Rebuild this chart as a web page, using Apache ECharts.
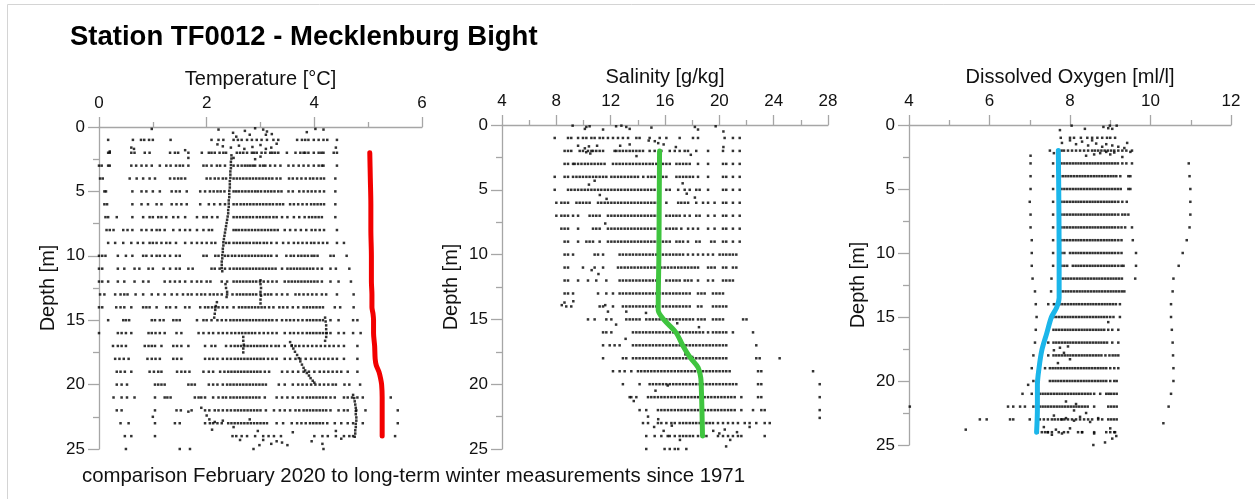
<!DOCTYPE html>
<html lang="en">
<head>
    <meta charset="UTF-8">
    <title>Station TF0012 - Mecklenburg Bight</title>
    <script src="https://cdn.jsdelivr.net/npm/echarts@6/dist/echarts.min.js"></script>
</head>
<body style="margin:0;background:#fff;">
    <div id="main" style="width:1255px;height:499px;"></div>
<script type="text/javascript">
    // depth rows: index = depth [m], values = readings at that depth
    var tempRows = [
        [],
        [0.17, 0.63, 0.78, 0.84, 0.93, 1.0, 1.33, 2.09, 2.22, 2.31, 2.5, 2.58, 2.65, 2.75, 2.84, 2.93, 3.02, 3.12, 3.24, 3.33, 3.68, 3.77, 3.83, 3.89, 3.99, 4.08, 4.17, 4.24, 4.42],
        [0.17, 0.2, 0.6, 0.66, 0.85, 0.94, 1.32, 1.41, 1.47, 1.66, 1.91, 2.04, 2.09, 2.15, 2.24, 2.31, 2.36, 2.56, 2.62, 2.68, 2.75, 2.84, 2.88, 2.93, 3.02, 3.09, 3.18, 3.22, 3.27, 3.33, 3.49, 3.65, 3.74, 3.8, 3.83, 3.89, 3.99, 4.08, 4.13, 4.17, 4.36, 4.42],
        [0.0, 0.05, 0.17, 0.2, 0.6, 0.69, 0.79, 0.88, 0.98, 1.13, 1.25, 1.33, 1.43, 1.5, 1.56, 1.66, 1.94, 2.0, 2.09, 2.19, 2.25, 2.34, 2.5, 2.58, 2.65, 2.71, 2.76, 2.81, 2.86, 2.9, 2.99, 3.05, 3.09, 3.18, 3.27, 3.37, 3.52, 3.61, 3.71, 3.8, 3.89, 3.99, 4.08, 4.14, 4.17, 4.42],
        [0.02, 0.07, 0.57, 0.7, 0.82, 0.94, 1.04, 1.32, 1.4, 1.47, 1.53, 1.6, 2.0, 2.07, 2.15, 2.22, 2.3, 2.36, 2.5, 2.56, 2.62, 2.68, 2.74, 2.8, 2.86, 2.92, 2.98, 3.04, 3.1, 3.16, 3.22, 3.3, 3.37, 3.53, 3.6, 3.68, 3.76, 3.84, 3.92, 3.98, 4.05, 4.12, 4.18, 4.39],
        [0.1, 0.13, 0.62, 0.79, 0.88, 1.0, 1.13, 1.35, 1.43, 1.5, 1.63, 1.88, 1.97, 2.06, 2.13, 2.2, 2.26, 2.33, 2.5, 2.55, 2.6, 2.66, 2.72, 2.78, 2.84, 2.9, 2.95, 3.01, 3.08, 3.14, 3.2, 3.26, 3.33, 3.39, 3.52, 3.6, 3.72, 3.8, 3.88, 3.95, 4.02, 4.1, 4.18, 4.39],
        [0.1, 0.15, 0.62, 0.79, 0.91, 1.07, 1.16, 1.35, 1.44, 1.53, 1.63, 1.88, 2.04, 2.14, 2.25, 2.34, 2.5, 2.56, 2.63, 2.69, 2.75, 2.81, 2.87, 2.93, 2.99, 3.05, 3.11, 3.17, 3.23, 3.3, 3.36, 3.42, 3.55, 3.62, 3.7, 3.78, 3.86, 3.94, 4.0, 4.06, 4.12, 4.18, 4.39],
        [0.12, 0.17, 0.33, 0.62, 0.82, 0.94, 1.0, 1.1, 1.16, 1.25, 1.38, 1.47, 1.6, 1.82, 1.94, 2.0, 2.1, 2.2, 2.5, 2.56, 2.62, 2.68, 2.74, 2.8, 2.86, 2.93, 2.99, 3.05, 3.11, 3.17, 3.24, 3.3, 3.4, 3.5, 3.62, 3.72, 3.82, 3.9, 3.96, 4.02, 4.08, 4.14, 4.39],
        [0.14, 0.2, 0.27, 0.45, 0.53, 0.62, 0.79, 0.88, 0.98, 1.07, 1.13, 1.22, 1.38, 1.5, 1.6, 1.69, 1.82, 1.94, 2.04, 2.1, 2.5, 2.55, 2.6, 2.66, 2.72, 2.78, 2.84, 2.9, 2.96, 3.02, 3.08, 3.14, 3.2, 3.26, 3.32, 3.45, 3.55, 3.65, 3.75, 3.85, 3.95, 4.02, 4.1, 4.18, 4.42],
        [0.17, 0.3, 0.45, 0.6, 0.72, 0.82, 0.94, 1.0, 1.07, 1.16, 1.25, 1.32, 1.43, 1.6, 1.72, 1.82, 1.91, 2.0, 2.09, 2.16, 2.36, 2.42, 2.5, 2.56, 2.62, 2.68, 2.74, 2.8, 2.87, 2.93, 2.99, 3.06, 3.12, 3.2, 3.3, 3.42, 3.52, 3.62, 3.7, 3.78, 3.86, 3.94, 4.0, 4.08, 4.16, 4.24, 4.42, 4.55],
        [0.0, 0.06, 0.12, 0.35, 0.5, 0.62, 0.82, 0.88, 0.98, 1.07, 1.13, 1.22, 1.32, 1.43, 1.5, 1.94, 2.0, 2.16, 2.22, 2.34, 2.4, 2.47, 2.53, 2.6, 2.66, 2.72, 2.78, 2.84, 2.9, 2.96, 3.02, 3.08, 3.14, 3.2, 3.3, 3.48, 3.56, 3.62, 3.7, 3.76, 3.82, 3.88, 3.95, 4.0, 4.06, 4.3, 4.36, 4.6],
        [0.0, 0.06, 0.35, 0.47, 0.66, 0.75, 0.92, 1.0, 1.2, 1.32, 1.43, 1.5, 1.66, 1.74, 2.09, 2.15, 2.24, 2.34, 2.43, 2.5, 2.56, 2.62, 2.68, 2.74, 2.8, 2.86, 2.92, 2.98, 3.04, 3.1, 3.16, 3.22, 3.28, 3.4, 3.5, 3.56, 3.62, 3.68, 3.74, 3.8, 3.86, 3.92, 3.98, 4.06, 4.14, 4.3, 4.4, 4.65],
        [0.0, 0.06, 0.17, 0.35, 0.47, 0.66, 0.82, 0.92, 1.22, 1.32, 1.41, 1.5, 1.6, 1.72, 1.82, 1.9, 2.0, 2.07, 2.28, 2.38, 2.5, 2.56, 2.62, 2.68, 2.74, 2.8, 2.86, 2.92, 2.99, 3.06, 3.14, 3.22, 3.3, 3.45, 3.52, 3.58, 3.64, 3.7, 3.76, 3.82, 3.88, 3.94, 4.0, 4.06, 4.14, 4.3, 4.45, 4.68],
        [0.02, 0.1, 0.3, 0.4, 0.47, 0.53, 0.68, 0.82, 0.98, 1.1, 1.22, 1.35, 1.45, 1.56, 1.65, 1.72, 1.82, 1.9, 1.97, 2.06, 2.13, 2.2, 2.28, 2.38, 2.48, 2.56, 2.62, 2.68, 2.74, 2.8, 2.86, 2.92, 3.0, 3.08, 3.14, 3.2, 3.3, 3.4, 3.5, 3.65, 3.72, 3.8, 3.88, 3.96, 4.04, 4.14, 4.22, 4.42, 4.73],
        [0.0, 0.06, 0.32, 0.4, 0.47, 0.6, 0.82, 0.88, 0.94, 1.07, 1.25, 1.32, 1.43, 1.6, 1.68, 1.88, 1.97, 2.03, 2.1, 2.16, 2.22, 2.3, 2.38, 2.5, 2.6, 2.66, 2.72, 2.78, 2.84, 2.9, 2.96, 3.02, 3.08, 3.16, 3.24, 3.35, 3.42, 3.5, 3.6, 3.7, 3.8, 3.86, 3.92, 3.98, 4.04, 4.1, 4.16, 4.38, 4.48, 4.73],
        [0.17, 0.45, 0.5, 0.56, 0.98, 1.04, 1.13, 1.2, 1.38, 1.44, 1.5, 1.82, 1.94, 2.0, 2.09, 2.2, 2.28, 2.36, 2.44, 2.5, 2.56, 2.62, 2.68, 2.74, 2.8, 2.86, 2.92, 2.98, 3.04, 3.1, 3.16, 3.22, 3.3, 3.4, 3.48, 3.55, 3.62, 3.7, 3.78, 3.86, 3.92, 3.98, 4.04, 4.1, 4.16, 4.3, 4.45, 4.72, 4.8],
        [0.0, 0.35, 0.42, 0.5, 0.6, 0.92, 0.98, 1.05, 1.13, 1.22, 1.44, 1.53, 1.85, 1.94, 2.04, 2.12, 2.22, 2.3, 2.38, 2.46, 2.53, 2.6, 2.66, 2.72, 2.78, 2.84, 2.9, 2.98, 3.06, 3.14, 3.22, 3.3, 3.45, 3.55, 3.62, 3.7, 3.78, 3.86, 3.92, 3.98, 4.04, 4.1, 4.16, 4.22, 4.3, 4.45, 4.55, 4.72, 4.86],
        [0.26, 0.35, 0.42, 0.5, 0.85, 0.92, 0.98, 1.04, 1.16, 1.38, 1.45, 1.53, 1.66, 1.97, 2.09, 2.16, 2.36, 2.45, 2.52, 2.58, 2.64, 2.7, 2.76, 2.82, 2.88, 2.94, 3.0, 3.06, 3.12, 3.2, 3.28, 3.34, 3.45, 3.58, 3.65, 3.72, 3.8, 3.88, 3.96, 4.04, 4.12, 4.2, 4.28, 4.36, 4.45, 4.55, 4.8],
        [0.3, 0.38, 0.46, 0.55, 0.9, 0.98, 1.05, 1.13, 1.38, 1.45, 1.53, 1.97, 2.05, 2.12, 2.2, 2.3, 2.38, 2.45, 2.52, 2.58, 2.64, 2.7, 2.76, 2.82, 2.88, 2.94, 3.0, 3.06, 3.14, 3.22, 3.3, 3.45, 3.55, 3.65, 3.74, 3.84, 3.94, 4.02, 4.1, 4.18, 4.26, 4.34, 4.42, 4.55, 4.8],
        [0.33, 0.4, 0.48, 0.6, 0.94, 1.02, 1.1, 1.16, 1.45, 1.53, 1.6, 1.68, 1.94, 2.04, 2.12, 2.25, 2.33, 2.4, 2.46, 2.52, 2.58, 2.64, 2.7, 2.76, 2.82, 2.88, 2.94, 3.0, 3.08, 3.16, 3.4, 3.5, 3.6, 3.7, 3.8, 3.9, 4.0, 4.1, 4.18, 4.26, 4.34, 4.42, 4.5, 4.62, 4.8],
        [0.33, 0.42, 0.52, 1.04, 1.1, 1.16, 1.22, 1.66, 1.72, 1.78, 2.04, 2.12, 2.2, 2.3, 2.38, 2.44, 2.5, 2.56, 2.62, 2.68, 2.74, 2.8, 2.86, 2.92, 2.98, 3.04, 3.1, 3.34, 3.45, 3.6, 3.7, 3.78, 3.86, 3.94, 4.02, 4.1, 4.18, 4.26, 4.34, 4.4, 4.56, 4.65, 4.85],
        [0.27, 0.42, 0.52, 0.66, 1.04, 1.22, 1.27, 1.33, 1.78, 1.85, 1.9, 1.97, 2.12, 2.22, 2.3, 2.36, 2.44, 2.5, 2.56, 2.62, 2.68, 2.74, 2.8, 2.86, 2.92, 2.98, 3.08, 3.3, 3.4, 3.5, 3.6, 3.7, 3.78, 3.86, 3.92, 3.98, 4.04, 4.1, 4.16, 4.22, 4.3, 4.38, 4.55, 4.62, 4.7, 4.8, 4.9, 5.42],
        [0.33, 0.42, 1.04, 1.44, 1.52, 1.72, 1.97, 2.05, 2.15, 2.22, 2.3, 2.38, 2.45, 2.52, 2.58, 2.64, 2.7, 2.76, 2.82, 2.88, 2.94, 3.0, 3.1, 3.25, 3.36, 3.45, 3.55, 3.65, 3.72, 3.8, 3.86, 3.92, 3.98, 4.04, 4.1, 4.16, 4.22, 4.3, 4.45, 4.55, 4.62, 4.78, 4.95, 5.55],
        [0.4, 0.55, 1.04, 1.41, 1.5, 1.97, 2.06, 2.12, 2.2, 2.28, 2.4, 2.46, 2.52, 2.58, 2.64, 2.7, 2.76, 2.82, 2.88, 2.94, 3.0, 3.06, 3.12, 3.3, 3.42, 3.58, 3.68, 3.76, 3.84, 3.92, 3.98, 4.04, 4.1, 4.16, 4.24, 4.38, 4.5, 4.62, 4.72, 4.9, 5.55],
        [0.48, 0.6, 1.04, 2.48, 2.55, 2.65, 2.75, 2.9, 3.05, 3.15, 3.25, 3.38, 4.0, 4.15, 4.25, 4.4, 4.55, 4.65, 4.72, 5.5],
        [0.5, 1.5, 1.69, 2.87, 4.17]
    ];
    // readings between the rows: [value, depth]
    var tempExtra = [
        [0.98, 0.15], [2.22, 0.2], [2.49, 0.45], [2.71, 0.3], [2.9, 0.1], [3.05, 0.2], [3.12, 0.35], [3.21, 0.55], [3.86, 0.4], [4.02, 0.15], [4.17, 0.2], [2.55, 0.75], [2.8, 0.6], [3.1, 0.6],
        [2.2, 1.35], [2.3, 1.5], [2.45, 1.6], [2.6, 1.45], [2.7, 1.7], [2.85, 1.55], [3.0, 1.4], [3.1, 1.7], [3.2, 1.6], [3.3, 1.3], [4.4, 1.6], [0.6, 1.6], [0.65, 1.7], [1.6, 1.8], [0.2, 1.9], [2.5, 2.4], [2.9, 2.5], [3.0, 2.3], [1.66, 2.4],
        [1.9, 21.8], [2.0, 22.4], [2.05, 22.7], [2.15, 22.9], [2.1, 23.5], [2.3, 22.8], [2.5, 23.3], [2.62, 24.3], [2.8, 22.7], [2.95, 23.6], [3.05, 24.3], [3.2, 24.6], [3.3, 24.4], [3.4, 24.5], [3.5, 24.7], [3.6, 23.7], [3.95, 24.4], [4.15, 24.6], [4.4, 23.6], [4.5, 24.2], [2.98, 24.7], [1.66, 22.1], [1.0, 22.5],
        [2.46, 2.2], [2.46, 2.45], [2.45, 2.7], [2.45, 2.95], [2.45, 3.2], [2.44, 3.45], [2.44, 3.7], [2.44, 3.95], [2.43, 4.2], [2.43, 4.45], [2.43, 4.7], [2.42, 4.95], [2.42, 5.2], [2.42, 5.45], [2.41, 5.7], [2.41, 5.95], [2.41, 6.2], [2.4, 6.45], [2.4, 6.7], [2.39, 6.95], [2.38, 7.2], [2.37, 7.45], [2.36, 7.7], [2.35, 7.95], [2.34, 8.2], [2.33, 8.45], [2.32, 8.7], [2.31, 8.95], [2.31, 9.2], [2.3, 9.45], [2.3, 9.7], [2.29, 9.95], [2.29, 10.2], [2.28, 10.45], [2.28, 10.7], [2.28, 10.95], [2.29, 11.2],
        [3.0, 11.9], [3.0, 12.2], [3.01, 12.5], [3.0, 12.8], [3.01, 13.1], [3.0, 13.4], [3.0, 13.7],
        [2.35, 12.2], [2.36, 12.5], [2.38, 12.8], [2.37, 13.2],
        [2.19, 13.6], [2.17, 13.9], [2.16, 14.2], [2.15, 14.5], [2.14, 14.8],
        [4.2, 14.8], [4.21, 15.1], [4.22, 15.4], [4.22, 15.7], [4.23, 16.0], [4.22, 16.3], [4.2, 16.6],
        [3.55, 16.7], [3.58, 16.95], [3.61, 17.2], [3.64, 17.45], [3.68, 17.7], [3.71, 17.95], [3.74, 18.2], [3.77, 18.45], [3.8, 18.7], [3.83, 18.9], [3.86, 19.1], [3.9, 19.3], [3.93, 19.5], [3.97, 19.7], [4.0, 19.85],
        [2.68, 16.3], [2.68, 16.6], [2.69, 16.9], [2.68, 17.2], [2.68, 17.5],
        [4.72, 20.8], [4.74, 21.05], [4.75, 21.3], [4.76, 21.55], [4.77, 21.8], [4.77, 22.05], [4.77, 22.3], [4.78, 22.55], [4.78, 22.8], [4.77, 23.05], [4.77, 23.3], [4.76, 23.55], [4.76, 23.8], [4.75, 24.05]
    ];
    var tempProfileDepth = [2, 4, 6, 8, 10, 12, 13, 14, 14.5, 15, 16, 17, 18, 18.5, 19, 19.5, 20, 21, 22, 23, 24];
    var tempProfile = [5.03, 5.04, 5.05, 5.05, 5.06, 5.06, 5.07, 5.07, 5.09, 5.1, 5.1, 5.12, 5.13, 5.15, 5.2, 5.23, 5.25, 5.26, 5.26, 5.26, 5.26];

    var salRows = [
        [],
        [7.88, 8.86, 9.1, 9.6, 9.96, 10.21, 10.58, 10.82, 11.19, 11.44, 11.8, 12.17, 12.54, 12.9, 13.28, 13.89, 14.13, 14.87, 15.61, 16.1, 17.08, 18.06, 18.43, 20.39, 21.0, 21.5],
        [8.61, 8.86, 9.1, 9.72, 9.96, 10.33, 10.58, 10.7, 10.94, 11.19, 11.44, 12.29, 12.42, 12.66, 12.9, 13.15, 13.4, 13.64, 13.89, 14.13, 14.38, 14.87, 15.24, 15.73, 16.35, 16.72, 17.08, 17.45, 17.69, 18.3, 19.17, 20.27, 21.0, 21.5],
        [8.61, 8.86, 9.23, 9.35, 9.6, 9.85, 10.1, 10.33, 10.58, 10.82, 11.07, 11.3, 11.55, 12.17, 12.42, 12.66, 12.9, 13.15, 13.4, 13.64, 13.89, 14.13, 14.38, 14.62, 14.87, 15.1, 15.36, 15.85, 16.1, 16.35, 16.84, 17.08, 17.33, 17.57, 17.82, 18.43, 19.17, 20.27, 20.51, 21.0, 21.5],
        [7.88, 8.61, 8.86, 9.23, 9.48, 9.72, 9.96, 10.21, 10.45, 10.7, 10.94, 11.19, 11.44, 11.68, 12.05, 12.29, 12.54, 12.78, 13.03, 13.28, 13.52, 13.77, 14.01, 14.4, 14.75, 15.0, 15.24, 15.6, 15.85, 16.1, 16.84, 17.08, 17.33, 17.57, 17.82, 18.06, 18.43, 19.17, 20.27, 20.51, 21.0, 21.5],
        [7.88, 8.86, 9.1, 9.35, 9.6, 9.85, 10.09, 10.33, 10.58, 10.82, 11.07, 11.31, 11.56, 11.8, 12.05, 12.29, 12.54, 12.78, 13.03, 13.27, 13.52, 13.76, 14.01, 14.25, 14.5, 14.74, 14.99, 15.23, 16.1, 16.35, 16.97, 17.45, 17.82, 18.3, 18.55, 19.17, 20.27, 20.51, 21.0, 21.5],
        [8.0, 8.37, 8.61, 8.86, 9.48, 9.72, 9.96, 10.21, 10.45, 11.07, 11.31, 11.56, 11.8, 12.05, 12.29, 12.54, 12.78, 13.03, 13.27, 13.52, 13.76, 14.01, 14.25, 14.5, 14.74, 14.99, 15.23, 15.48, 16.1, 16.97, 17.2, 17.45, 17.7, 18.3, 18.8, 19.17, 19.65, 20.27, 20.51, 21.0, 21.5],
        [8.0, 8.37, 8.61, 8.86, 9.23, 9.6, 10.45, 10.7, 10.94, 11.19, 11.8, 12.05, 12.29, 12.54, 12.78, 13.03, 13.27, 13.52, 13.76, 14.01, 14.25, 14.5, 14.74, 14.99, 15.23, 15.48, 16.1, 16.35, 16.6, 16.84, 17.08, 17.45, 17.82, 18.3, 18.55, 19.17, 19.65, 20.27, 20.51, 21.0, 21.5],
        [8.37, 8.61, 8.86, 9.6, 10.7, 10.94, 11.19, 11.8, 12.05, 12.29, 12.54, 12.78, 13.03, 13.27, 13.52, 13.76, 14.01, 14.25, 14.5, 14.74, 14.99, 15.23, 15.48, 16.1, 16.35, 16.6, 16.84, 17.2, 17.7, 18.06, 18.43, 19.17, 19.65, 20.27, 20.51, 21.0, 21.5],
        [8.61, 8.86, 9.6, 10.21, 10.45, 10.7, 11.19, 11.8, 12.05, 12.29, 12.54, 12.78, 13.03, 13.27, 13.52, 13.76, 14.01, 14.25, 14.5, 14.74, 14.99, 15.23, 15.48, 15.85, 16.1, 16.35, 16.84, 17.08, 17.33, 17.69, 18.3, 18.55, 19.4, 19.65, 20.27, 20.51, 21.0, 21.5],
        [8.61, 8.86, 9.23, 10.82, 11.07, 11.44, 12.66, 12.9, 13.15, 13.4, 13.64, 13.89, 14.13, 14.38, 14.62, 14.87, 15.11, 15.36, 15.6, 15.85, 16.1, 16.35, 16.6, 16.84, 17.08, 17.33, 17.69, 18.06, 18.43, 18.8, 19.17, 19.53, 20.02, 20.27, 20.51, 20.76, 21.0, 21.25],
        [8.61, 8.86, 9.96, 10.82, 11.44, 12.54, 12.78, 13.03, 13.27, 13.52, 13.76, 14.01, 14.25, 14.5, 14.74, 14.99, 15.23, 15.48, 15.73, 15.97, 16.22, 16.47, 16.72, 16.97, 17.21, 17.46, 17.7, 17.95, 18.19, 18.43, 19.17, 19.41, 19.66, 20.27, 20.51, 21.0, 21.25],
        [8.61, 8.86, 9.6, 10.33, 10.94, 11.68, 12.66, 12.9, 13.15, 13.4, 13.64, 13.89, 14.13, 14.38, 14.62, 14.87, 15.11, 15.36, 15.6, 16.1, 16.35, 16.6, 16.84, 17.08, 17.45, 17.69, 17.95, 18.43, 19.17, 19.53, 20.27, 20.51, 20.76, 21.0],
        [8.61, 8.86, 9.23, 11.07, 11.68, 12.17, 12.66, 12.9, 13.15, 13.4, 13.64, 13.89, 14.13, 14.38, 14.62, 14.87, 15.11, 15.36, 15.6, 15.85, 16.1, 16.35, 16.6, 16.84, 17.08, 17.33, 17.57, 17.82, 18.43, 18.68, 18.92, 19.53, 19.78, 20.02, 20.27],
        [8.73, 9.1, 11.19, 11.44, 12.17, 12.9, 13.15, 13.4, 13.64, 13.89, 14.13, 14.38, 14.62, 14.87, 15.11, 15.36, 15.85, 16.1, 16.35, 16.6, 16.84, 17.08, 17.33, 17.57, 17.82, 18.43, 18.68, 19.53, 19.78, 20.02, 20.27, 20.51],
        [10.33, 10.82, 11.68, 12.05, 13.15, 13.4, 13.64, 13.89, 14.13, 14.62, 14.87, 15.11, 15.36, 15.6, 15.85, 16.1, 16.35, 16.6, 16.84, 17.08, 17.33, 17.57, 17.82, 18.06, 18.43, 18.68, 18.92, 19.53, 19.78, 20.02, 20.27, 21.75, 22.0],
        [11.44, 11.68, 12.05, 13.64, 13.89, 14.13, 14.38, 14.62, 14.87, 15.11, 15.36, 15.6, 15.85, 16.1, 16.35, 16.6, 16.84, 17.08, 17.33, 17.57, 17.82, 18.06, 18.3, 18.55, 18.8, 19.17, 19.53, 19.78, 20.02, 20.27, 20.51, 21.0, 22.48],
        [11.44, 11.93, 12.29, 12.66, 13.64, 13.89, 14.13, 14.38, 14.62, 14.87, 15.11, 15.36, 15.6, 15.85, 16.1, 16.35, 16.6, 16.84, 17.08, 17.33, 17.57, 17.82, 18.06, 18.3, 18.55, 18.8, 19.05, 19.29, 19.53, 19.78, 20.02, 20.27, 20.51, 22.72],
        [11.44, 12.9, 13.15, 13.64, 13.89, 14.13, 14.38, 14.62, 14.87, 15.11, 15.36, 15.6, 15.85, 16.1, 16.35, 16.6, 16.84, 17.08, 17.33, 17.57, 17.82, 18.06, 18.3, 18.55, 18.8, 19.05, 19.29, 19.53, 19.78, 20.02, 20.27, 20.51, 22.72, 22.97, 24.44],
        [12.17, 12.66, 13.03, 13.52, 14.01, 14.25, 14.5, 14.74, 14.99, 15.23, 15.48, 15.73, 15.97, 16.22, 16.47, 16.72, 16.97, 17.21, 17.46, 17.7, 17.95, 18.19, 18.43, 18.8, 19.05, 19.29, 19.53, 19.78, 20.02, 20.27, 20.51, 20.76, 22.85, 23.09, 26.9],
        [12.9, 14.13, 14.87, 15.11, 15.36, 15.6, 15.85, 16.1, 16.35, 16.6, 16.84, 17.08, 17.33, 17.57, 17.82, 18.06, 18.3, 18.55, 18.8, 19.05, 19.29, 19.53, 19.78, 20.02, 20.27, 20.51, 20.76, 21.0, 21.25, 22.85, 23.09, 27.39],
        [13.52, 13.89, 14.75, 14.99, 15.23, 15.48, 15.73, 15.97, 16.22, 16.47, 16.72, 16.97, 17.21, 17.46, 17.7, 17.95, 18.19, 18.43, 18.68, 18.92, 19.17, 19.41, 19.66, 19.9, 20.15, 20.39, 20.64, 20.88, 21.13, 21.62, 22.85, 23.09, 27.39],
        [14.13, 14.62, 15.48, 15.73, 15.97, 16.22, 16.47, 16.72, 16.97, 17.21, 17.46, 17.7, 17.95, 18.19, 18.43, 18.68, 18.92, 19.17, 19.41, 19.66, 19.9, 20.15, 20.39, 20.64, 20.88, 21.13, 21.62, 22.48, 23.09, 23.34, 27.39],
        [14.38, 14.75, 15.48, 15.73, 16.1, 16.47, 16.72, 17.08, 17.33, 17.57, 17.82, 18.06, 18.3, 18.55, 18.8, 19.05, 19.29, 19.53, 19.9, 20.27, 20.64, 21.0, 21.37, 21.87, 22.23, 22.72, 23.34, 23.71],
        [14.62, 15.24, 15.73, 16.35, 16.72, 17.08, 17.33, 17.57, 17.82, 18.06, 18.43, 18.8, 19.05, 19.9, 20.27, 20.64, 21.0, 21.37, 21.62, 23.34],
        [14.62, 15.97, 16.35, 16.72, 16.97, 17.57]
    ];
    var salExtra = [
        [9.2, 0.05], [10.1, 0.3], [10.21, 0.15], [10.45, 0.1], [11.44, 0.35], [12.4, 0.1], [12.79, 0.05], [13.15, 0.15], [13.4, 0.3], [15.0, 0.2], [18.2, 0.15], [18.43, 0.35], [19.73, 0.1], [20.3, 0.5],
        [9.6, 1.6], [10.1, 1.8], [10.4, 1.65], [10.2, 2.1], [10.5, 2.2], [11.0, 1.6], [12.7, 1.6], [13.4, 1.5], [14.8, 1.2], [15.25, 1.25], [15.5, 1.4], [15.9, 1.5], [16.8, 1.7], [17.9, 2.3], [20.3, 1.7], [13.9, 2.4],
        [10.4, 4.6], [10.82, 4.3], [11.2, 5.4], [11.7, 5.7], [17.3, 4.5], [17.6, 5.3], [18.2, 5.6], [11.6, 7.6],
        [8.4, 13.9], [8.6, 13.7], [9.25, 13.6], [10.6, 11.2], [11.1, 11.5], [11.6, 13.9], [11.8, 14.4], [13.15, 14.4], [12.4, 15.4], [14.6, 14.5], [16.9, 15.3], [18.5, 15.6], [13.1, 16.5], [18.0, 17.9], [17.5, 17.7],
        [15.3, 20.5], [16.2, 20.1], [13.4, 21.0], [13.7, 21.3], [14.75, 22.5], [15.5, 22.7], [16.5, 23.2], [15.9, 23.6], [16.2, 24.0], [17.1, 24.3], [19.55, 23.6], [20.0, 23.8], [20.4, 23.5], [20.8, 24.3], [21.3, 23.7], [20.5, 24.8], [15.2, 23.3], [22.23, 23.3], [27.39, 22.6]
    ];
    var salProfileDepth = [2, 5, 10, 14, 14.3, 15, 16, 17, 17.5, 18, 18.7, 19.5, 20.5, 22, 24];
    var salProfile = [15.6, 15.58, 15.55, 15.5, 15.5, 15.9, 16.8, 17.3, 17.58, 17.9, 18.43, 18.63, 18.68, 18.72, 18.76];

    var oxyRows = [
        [],
        [7.77, 8.0, 8.1, 8.27, 8.43, 8.55, 8.68, 8.8, 8.92, 9.0, 9.12],
        [7.5, 7.79, 7.85, 7.95, 8.05, 8.15, 8.25, 8.35, 8.45, 8.55, 8.62, 8.7, 8.78, 8.86, 8.94, 9.02, 9.1, 9.2, 9.3, 9.4, 9.54],
        [7.02, 7.58, 7.79, 7.86, 7.93, 8.0, 8.07, 8.14, 8.21, 8.28, 8.35, 8.42, 8.49, 8.56, 8.63, 8.7, 8.77, 8.84, 8.91, 8.98, 9.05, 9.12, 9.19, 9.3, 9.4, 9.54, 10.95],
        [7.02, 7.58, 7.75, 7.82, 7.89, 7.96, 8.03, 8.1, 8.17, 8.24, 8.31, 8.38, 8.45, 8.52, 8.59, 8.66, 8.73, 8.8, 8.87, 8.94, 9.01, 9.08, 9.15, 9.25, 9.45, 9.5, 10.97],
        [7.02, 7.58, 7.79, 7.86, 7.93, 8.0, 8.07, 8.14, 8.21, 8.28, 8.35, 8.42, 8.49, 8.56, 8.63, 8.7, 8.77, 8.84, 8.91, 8.98, 9.05, 9.12, 9.19, 9.26, 9.45, 9.5, 10.99],
        [7.0, 7.58, 7.79, 7.86, 7.93, 8.0, 8.07, 8.14, 8.21, 8.28, 8.35, 8.42, 8.49, 8.56, 8.63, 8.7, 8.77, 8.84, 8.91, 8.98, 9.05, 9.12, 9.2, 9.3, 9.41, 10.99],
        [7.02, 7.58, 7.79, 7.86, 7.93, 8.0, 8.07, 8.14, 8.21, 8.28, 8.35, 8.42, 8.49, 8.56, 8.63, 8.7, 8.77, 8.84, 8.91, 8.98, 9.05, 9.12, 9.2, 9.3, 9.37, 9.45, 10.99],
        [7.02, 7.58, 7.79, 7.86, 7.93, 8.0, 8.07, 8.14, 8.21, 8.28, 8.35, 8.42, 8.49, 8.56, 8.63, 8.7, 8.77, 8.84, 8.91, 8.98, 9.05, 9.12, 9.2, 9.28, 9.37, 9.54, 10.97],
        [7.05, 7.58, 7.79, 7.86, 7.93, 8.0, 8.07, 8.14, 8.21, 8.28, 8.35, 8.42, 8.49, 8.56, 8.63, 8.7, 8.77, 8.84, 8.91, 8.98, 9.05, 9.12, 9.2, 9.28, 9.56, 10.9],
        [7.05, 7.58, 7.79, 7.86, 8.0, 8.07, 8.14, 8.21, 8.28, 8.35, 8.42, 8.49, 8.56, 8.63, 8.7, 8.77, 8.84, 8.91, 8.98, 9.05, 9.12, 9.2, 9.28, 9.64, 10.8],
        [7.05, 7.58, 7.79, 7.86, 7.93, 8.07, 8.14, 8.21, 8.28, 8.35, 8.42, 8.49, 8.56, 8.63, 8.7, 8.77, 8.84, 8.91, 8.98, 9.05, 9.12, 9.2, 9.28, 9.33, 9.64, 10.7],
        [7.07, 7.54, 7.75, 7.82, 7.89, 7.96, 8.03, 8.1, 8.17, 8.24, 8.31, 8.38, 8.45, 8.52, 8.59, 8.66, 8.73, 8.8, 8.87, 8.94, 9.01, 9.08, 9.15, 9.22, 9.29, 9.62, 10.57],
        [7.13, 7.53, 7.75, 7.82, 7.89, 7.96, 8.03, 8.1, 8.17, 8.24, 8.31, 8.38, 8.45, 8.52, 8.59, 8.66, 8.73, 8.8, 8.87, 8.94, 9.01, 9.08, 9.15, 9.22, 9.29, 9.35, 10.55],
        [7.15, 7.46, 7.6, 7.67, 7.74, 7.81, 7.88, 7.95, 8.02, 8.09, 8.16, 8.23, 8.3, 8.37, 8.44, 8.51, 8.58, 8.65, 8.72, 8.79, 8.86, 8.93, 9.0, 9.07, 9.14, 9.24, 10.51],
        [7.17, 7.59, 7.66, 7.73, 7.8, 7.87, 7.94, 8.01, 8.08, 8.15, 8.22, 8.29, 8.36, 8.43, 8.5, 8.57, 8.64, 8.71, 8.78, 8.85, 8.92, 9.0, 9.08, 9.24, 10.51],
        [7.15, 7.46, 7.59, 7.66, 7.73, 7.8, 7.87, 7.94, 8.01, 8.08, 8.15, 8.22, 8.29, 8.36, 8.43, 8.5, 8.57, 8.64, 8.71, 8.78, 8.85, 8.95, 9.05, 9.2, 10.53],
        [7.13, 7.46, 7.59, 7.66, 7.73, 7.8, 7.87, 7.94, 8.01, 8.08, 8.15, 8.22, 8.29, 8.36, 8.43, 8.5, 8.57, 8.64, 8.71, 8.78, 8.85, 8.92, 9.05, 9.2, 10.55],
        [7.09, 7.46, 7.59, 7.66, 7.73, 7.8, 7.87, 7.94, 8.01, 8.08, 8.15, 8.22, 8.29, 8.36, 8.43, 8.5, 8.57, 8.64, 8.71, 8.78, 8.88, 8.98, 9.06, 9.13, 9.2, 10.56],
        [7.05, 7.38, 7.5, 7.57, 7.64, 7.71, 7.78, 7.85, 7.92, 7.99, 8.06, 8.13, 8.2, 8.27, 8.34, 8.41, 8.48, 8.55, 8.62, 8.69, 8.76, 8.83, 8.9, 9.0, 9.1, 9.2, 10.57],
        [7.09, 7.5, 7.57, 7.64, 7.71, 7.78, 7.85, 7.92, 7.99, 8.06, 8.13, 8.2, 8.27, 8.34, 8.41, 8.48, 8.55, 8.62, 8.69, 8.76, 8.83, 8.9, 9.0, 9.1, 9.16, 10.57],
        [6.82, 7.05, 7.25, 7.32, 7.39, 7.46, 7.53, 7.6, 7.67, 7.74, 7.81, 7.88, 7.95, 8.02, 8.09, 8.16, 8.23, 8.3, 8.37, 8.44, 8.51, 8.6, 8.75, 8.9, 8.96, 9.02, 9.09, 9.16, 10.51],
        [4.02, 6.46, 6.59, 6.76, 6.88, 7.09, 7.25, 7.32, 7.39, 7.46, 7.53, 7.6, 7.67, 7.74, 7.81, 7.88, 7.95, 8.02, 8.09, 8.16, 8.23, 8.3, 8.37, 8.44, 8.6, 8.95, 9.02, 9.09, 9.16, 10.45],
        [5.76, 5.93, 6.51, 6.59, 7.0, 7.17, 7.25, 7.35, 7.45, 7.55, 7.62, 7.7, 7.78, 7.86, 7.95, 8.05, 8.15, 8.25, 8.35, 8.45, 8.55, 8.7, 8.8, 8.95, 9.02, 9.09, 9.16],
        [7.2, 7.3, 7.38, 7.45, 7.55, 7.72, 7.85, 7.95, 8.2, 8.3, 8.6, 8.9, 9.0, 9.12],
        []
    ];
    var oxyExtra = [
        [7.75, 0.4], [8.04, 0.05], [8.37, 0.3], [8.83, 0.15], [8.99, 0.05], [9.16, 0.05], [8.95, 0.25], [9.05, 0.3],
        [7.8, 1.4], [8.0, 1.2], [8.15, 1.5], [8.3, 1.3], [8.45, 1.6], [8.55, 1.2], [8.65, 1.45], [8.8, 1.7], [8.9, 1.5], [9.05, 1.6], [9.2, 1.7], [9.42, 1.4], [9.35, 1.8], [9.5, 2.1], [9.3, 2.5], [8.4, 2.4], [8.6, 2.3], [8.75, 2.2], [8.9, 2.1], [9.0, 2.3], [9.1, 2.15], [7.6, 2.2], [7.02, 2.4],
        [7.6, 17.6], [7.75, 17.4], [7.85, 17.8], [7.95, 17.3], [8.0, 18.3], [7.7, 18.6], [8.95, 15.4], [6.96, 20.3],
        [7.9, 21.6], [8.1, 22.3], [8.15, 21.8], [8.4, 22.5], [7.6, 22.7], [7.8, 23.0], [7.9, 22.9], [8.1, 23.1], [8.25, 22.8], [8.5, 23.2], [8.7, 22.9],
        [7.35, 23.6], [7.45, 24.0], [7.55, 24.2], [7.65, 23.8], [7.8, 24.1], [8.0, 23.7], [8.3, 24.0], [8.6, 24.1], [9.0, 23.7], [9.1, 24.0], [9.15, 24.3], [9.05, 24.5],
        [8.87, 24.8], [8.58, 25.0], [5.41, 23.8], [10.32, 23.3]
    ];
    var oxyProfileDepth = [2, 5, 10, 13.5, 14.25, 15, 16.3, 17.6, 19, 20.3, 22.2, 24];
    var oxyProfile = [7.71, 7.72, 7.73, 7.73, 7.67, 7.54, 7.42, 7.3, 7.23, 7.19, 7.19, 7.17];

    var font = "'Liberation Sans', Arial, sans-serif";
    var axisGrey = '#a6a6a6';

    function rowPoints(rows, extra) {
        var pts = [];
        for (var d = 0; d < rows.length; d++) {
            for (var i = 0; i < rows[d].length; i++) {
                pts.push([rows[d][i], d]);
            }
        }
        return pts.concat(extra);
    }
    function profilePoints(vals, depths) {
        var pts = [];
        for (var i = 0; i < vals.length; i++) pts.push([vals[i], depths[i]]);
        return pts;
    }

    function xAxisFor(idx, name, min, max, interval) {
        return {
            gridIndex: idx, type: 'value', position: 'top', min: min, max: max, interval: interval,
            name: name, nameLocation: 'middle', nameGap: 38,
            nameTextStyle: { fontFamily: font, fontSize: 20, color: '#111' },
            axisLine: { show: true, lineStyle: { color: axisGrey, width: 1.3 } },
            axisTick: { show: true, length: 10, lineStyle: { color: axisGrey, width: 1.3 } },
            minorTick: { show: true, splitNumber: 2, length: 5, lineStyle: { color: axisGrey, width: 1.3 } },
            axisLabel: { fontFamily: font, fontSize: 17, color: '#111', margin: 15 },
            splitLine: { show: false }
        };
    }
    function yAxisFor(idx) {
        return {
            gridIndex: idx, type: 'value', inverse: true, min: 0, max: 25, interval: 5,
            name: 'Depth [m]', nameLocation: 'middle', nameGap: 41,
            nameTextStyle: { fontFamily: font, fontSize: 20, color: '#111' },
            axisLine: { show: true, lineStyle: { color: axisGrey, width: 1.3 } },
            axisTick: { show: true, length: 11, lineStyle: { color: axisGrey, width: 1.3 } },
            minorTick: { show: true, splitNumber: 2, length: 6, lineStyle: { color: axisGrey, width: 1.3 } },
            axisLabel: { fontFamily: font, fontSize: 17, color: '#111', margin: 14 },
            splitLine: { show: false }
        };
    }
    function dots(idx, data) {
        return {
            type: 'scatter', xAxisIndex: idx, yAxisIndex: idx, data: data,
            symbol: 'rect', symbolSize: 2.5, itemStyle: { color: '#000' }, silent: true, z: 2
        };
    }
    function profile(idx, data, color) {
        return {
            type: 'line', xAxisIndex: idx, yAxisIndex: idx, data: data, smooth: 0.3,
            showSymbol: false, symbol: 'none', silent: true, z: 5,
            lineStyle: { color: color, width: 5, cap: 'round', join: 'round' }
        };
    }

    var myChart = echarts.init(document.getElementById('main'));
    var option = {
        backgroundColor: '#fff',
        animation: false,
        grid: [
            { left: 99, top: 127, width: 323, height: 322 },
            { left: 502, top: 125, width: 326, height: 324 },
            { left: 909, top: 125, width: 322, height: 320 }
        ],
        xAxis: [
            xAxisFor(0, 'Temperature [°C]', 0, 6, 2),
            xAxisFor(1, 'Salinity [g/kg]', 4, 28, 4),
            xAxisFor(2, 'Dissolved Oxygen [ml/l]', 4, 12, 2)
        ],
        yAxis: [yAxisFor(0), yAxisFor(1), yAxisFor(2)],
        series: [
            dots(0, rowPoints(tempRows, tempExtra)),
            dots(1, rowPoints(salRows, salExtra)),
            dots(2, rowPoints(oxyRows, oxyExtra)),
            profile(0, profilePoints(tempProfile, tempProfileDepth), '#f20000'),
            profile(1, profilePoints(salProfile, salProfileDepth), '#3fc43f'),
            profile(2, profilePoints(oxyProfile, oxyProfileDepth), '#1bb6ea')
        ],
        graphic: [
            { type: 'rect', shape: { x: 7.5, y: 4.5, width: 1300, height: 600 }, style: { fill: 'none', stroke: '#d4d4d4', lineWidth: 1 }, silent: true },
            { type: 'text', style: { x: 70, y: 37, text: 'Station TF0012 - Mecklenburg Bight', font: 'bold 27.5px ' + font, fill: '#000', verticalAlign: 'middle' } },
            { type: 'text', style: { x: 82, y: 476, text: 'comparison February 2020 to long-term winter measurements since 1971', font: '20.4px ' + font, fill: '#111', verticalAlign: 'middle' } }
        ]
    };
    myChart.setOption(option);
</script>
</body>
</html>
